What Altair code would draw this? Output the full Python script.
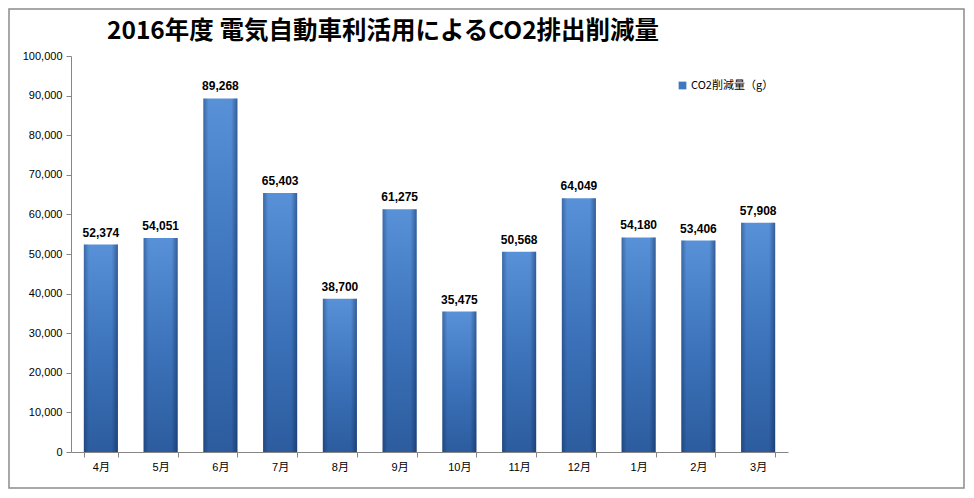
import altair as alt
import pandas as pd

months = ["4月", "5月", "6月", "7月", "8月", "9月", "10月", "11月", "12月", "1月", "2月", "3月"]
values = [52374, 54051, 89268, 65403, 38700, 61275, 35475, 50568, 64049, 54180, 53406, 57908]
series_name = "CO2削減量（g）"
title_text = "2016年度 電気自動車利活用によるCO2排出削減量"
y_ticks = list(range(0, 100001, 10000))

df = pd.DataFrame({"month": months, "value": values})

W, H = 717, 396
FONT = "Liberation Sans, Noto Sans CJK JP, sans-serif"

x_enc = alt.X("month:N", sort=months, title=None,
              scale=alt.Scale(paddingInner=0.43, paddingOuter=0.215),
              axis=alt.Axis(labelAngle=0, tickBand="extent", labelFontSize=11,
                            labelPadding=4, labelFont=FONT, labelColor="#000000"))
y_enc = alt.Y("value:Q", title=None,
              scale=alt.Scale(domain=[0, 100000], nice=False),
              axis=alt.Axis(values=y_ticks, format=",d", grid=False, labelFontSize=11,
                            labelFont=FONT, labelColor="#000000", labelPadding=4))

base = alt.Chart(df).encode(x=x_enc, y=y_enc)

vgrad = alt.Gradient(gradient="linear", x1=0, y1=0, x2=0, y2=1,
                     stops=[alt.GradientStop(color="#5891d8", offset=0),
                            alt.GradientStop(color="#3d74bc", offset=0.5),
                            alt.GradientStop(color="#2c5c9e", offset=1)])
hgrad = alt.Gradient(gradient="linear", x1=0, y1=0, x2=1, y2=0,
                     stops=[alt.GradientStop(color="rgba(10,30,70,0.35)", offset=0),
                            alt.GradientStop(color="rgba(10,30,70,0)", offset=0.15),
                            alt.GradientStop(color="rgba(10,30,70,0)", offset=0.82),
                            alt.GradientStop(color="rgba(10,30,70,0.45)", offset=1)])

bars = base.mark_bar(fill=vgrad)
bars_shade = base.mark_bar(fill=hgrad)

labels = base.mark_text(dy=-8, baseline="alphabetic", fontWeight="bold",
                        fontSize=12, font=FONT, color="#000000").encode(
    text=alt.Text("value:Q", format=",d"))

legend_layer = base.mark_square(size=0, opacity=0).encode(
    color=alt.Color("s:N", title=None,
                    scale=alt.Scale(domain=[series_name], range=["#3f78c0"]),
                    legend=alt.Legend(orient="none", legendX=606, legendY=24,
                                      symbolType="square", symbolSize=60,
                                      symbolOpacity=1, symbolStrokeWidth=0,
                                      labelFontSize=11, labelFont="Noto Sans CJK JP",
                                      labelColor="#000000", labelOffset=3, padding=0))
).transform_calculate(s="'" + series_name + "'")

one = pd.DataFrame({"t": [title_text]})
border = alt.Chart(one).mark_rect(
    fill="transparent", stroke="#8c8c8c", strokeWidth=1.5).encode(
    x=alt.value(-62), x2=alt.value(893), y=alt.value(-47), y2=alt.value(432))

title = alt.Chart(one).mark_text(
    align="left", baseline="alphabetic", fontSize=24.5, fontWeight="bold",
    font="Noto Sans CJK JP", color="#000000").encode(
    text="t:N", x=alt.value(36), y=alt.value(-17))

chart = alt.layer(border, title, bars, bars_shade, labels, legend_layer).properties(
    width=W, height=H,
    background="white",
    autosize=alt.AutoSizeParams(type="none"),
    padding={"left": 63, "top": 48, "right": 178, "bottom": 38},
).configure_view(strokeWidth=0, stroke=None).configure_axis(
    domainColor="#868686", tickColor="#868686", tickSize=5, domainWidth=1
)

chart.save("out.html", embed_options={"renderer": "svg", "actions": False})
